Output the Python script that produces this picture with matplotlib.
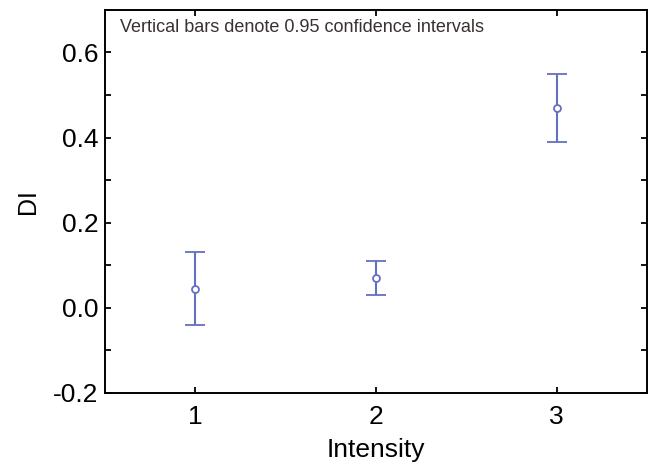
import numpy as np
from matplotlib import pyplot as plt
from matplotlib.ticker import MultipleLocator

plt.rcParams['font.family'] = ['Liberation Sans', 'DejaVu Sans']

intensity = [1, 2, 3]
di_mean = [0.045, 0.07, 0.47]
ci_low = [-0.04, 0.03, 0.39]
ci_high = [0.13, 0.11, 0.55]

mean = np.array(di_mean)
yerr = np.array([mean - np.array(ci_low), np.array(ci_high) - mean])

fig = plt.figure(figsize=(6.53, 4.71), dpi=100)
ax = fig.add_axes([0.161, 0.166, 0.83, 0.813])

blue = '#6470c0'
ax.errorbar(intensity, mean, yerr=yerr, fmt='o', color=blue, ecolor=blue,
            mfc='white', mec=blue, ms=5, mew=1.3, elinewidth=1.5,
            capsize=7, capthick=1.5)

ax.set_xlim(0.5, 3.5)
ax.set_ylim(-0.2, 0.7)
ax.set_xticks(intensity)
ax.yaxis.set_minor_locator(MultipleLocator(0.1))
ax.set_yticks([-0.2, 0.0, 0.2, 0.4, 0.6])
ax.set_yticklabels(['-0.2', '0.0', '0.2', '0.4', '0.6'])
ax.tick_params(which='both', direction='in', top=True, right=True,
               labelsize=19, length=4, width=1.3)
ax.tick_params(axis='x', pad=9)
ax.tick_params(axis='y', pad=5)
for s in ax.spines.values():
    s.set_linewidth(1.4)

ax.set_xlabel('Intensity', fontsize=19, labelpad=6)
ax.set_ylabel('DI', fontsize=18, labelpad=9)

ax.text(0.027, 0.975, 'Vertical bars denote 0.95 confidence intervals',
        transform=ax.transAxes, ha='left', va='top', fontsize=13,
        color='#3a3030')

fig.savefig('out.png', dpi=100)
